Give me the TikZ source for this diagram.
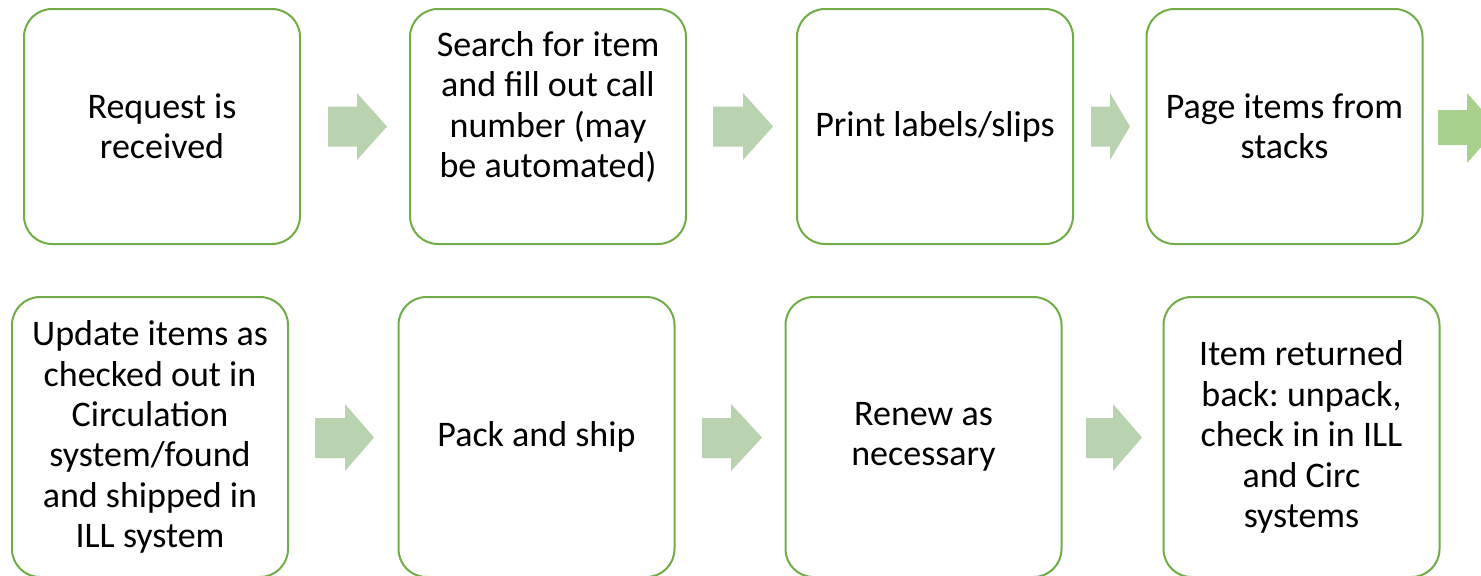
\documentclass[tikz,border=0pt]{standalone}
\usepackage{fontspec}
\setmainfont{Carlito}
\frenchspacing
\definecolor{boxline}{RGB}{112,173,71}
\definecolor{arrowfill}{RGB}{185,211,177}
\definecolor{arrowdark}{RGB}{169,209,142}
\tikzset{every picture/.style={line width=0.75pt}}
\tikzset{
  stepbox/.style={draw=boxline, line width=1.5pt, rounded corners=21pt, fill=white,
    minimum width=207pt, minimum height=176.25pt, align=center, inner sep=0pt,
    font=\fontsize{27}{30.3}\selectfont},
  tallbox/.style={stepbox, minimum height=210pt},
}

\begin{document}
\begin{tikzpicture}[x=0.75pt,y=0.75pt,yscale=-1,xscale=1]
\useasboundingbox (0,0) rectangle (1481,575);

%Shape: Rounded Rect (top row)
\node[stepbox] (recv) at (162,126.5) {Request is\\received};
\node[stepbox] (srch) at (548,126.5) {};
\node[align=center, font=\fontsize{27}{30.3}\selectfont] (srchtxt) at (548,107) {Search for item\\and fill out call\\number (may\\be automated)};
\node[stepbox] (prnt) at (935,126.5) {Print labels/slips};
\node[stepbox] (page) at (1284.5,126.5) {Page items from\\stacks};

%Shape: Rounded Rect (bottom row)
\node[tallbox] (updt) at (150,437) {Update items as\\checked out in\\Circulation\\system/found\\and shipped in\\ILL system};
\node[tallbox] (pack) at (536.5,437) {Pack and ship};
\node[tallbox] (renw) at (923.5,437) {Renew as\\necessary};
\node[tallbox] (rtrn) at (1301.5,437) {Item returned\\back: unpack,\\check in in ILL\\and Circ\\systems};

%Shape: Right Arrow [top row]
\fill[arrowfill] (328,106.5) -- (357,106.5) -- (357,93) -- (387,126.5) -- (357,160) -- (357,146.5) -- (328,146.5) -- cycle ;
%Shape: Right Arrow
\fill[arrowfill] (713,106.5) -- (743,106.5) -- (743,93) -- (773,126.5) -- (743,160) -- (743,146.5) -- (713,146.5) -- cycle ;
%Shape: Right Arrow
\fill[arrowfill] (1091,106.5) -- (1110,106.5) -- (1110,93) -- (1130,126.5) -- (1110,160) -- (1110,146.5) -- (1091,146.5) -- cycle ;
%Shape: Right Arrow (wraps to next row)
\fill[arrowdark] (1438,110) -- (1467,110) -- (1467,93) -- (1498,128) -- (1467,163) -- (1467,145) -- (1438,145) -- cycle ;

%Shape: Right Arrow [bottom row]
\fill[arrowfill] (315,418) -- (345,418) -- (345,404) -- (374,437.5) -- (345,471) -- (345,458) -- (315,458) -- cycle ;
%Shape: Right Arrow
\fill[arrowfill] (702,418) -- (731,418) -- (731,404) -- (762,437.5) -- (731,471) -- (731,458) -- (702,458) -- cycle ;
%Shape: Right Arrow
\fill[arrowfill] (1086,418) -- (1113,418) -- (1113,404) -- (1142,437.5) -- (1113,471) -- (1113,458) -- (1086,458) -- cycle ;

\end{tikzpicture}
\end{document}
